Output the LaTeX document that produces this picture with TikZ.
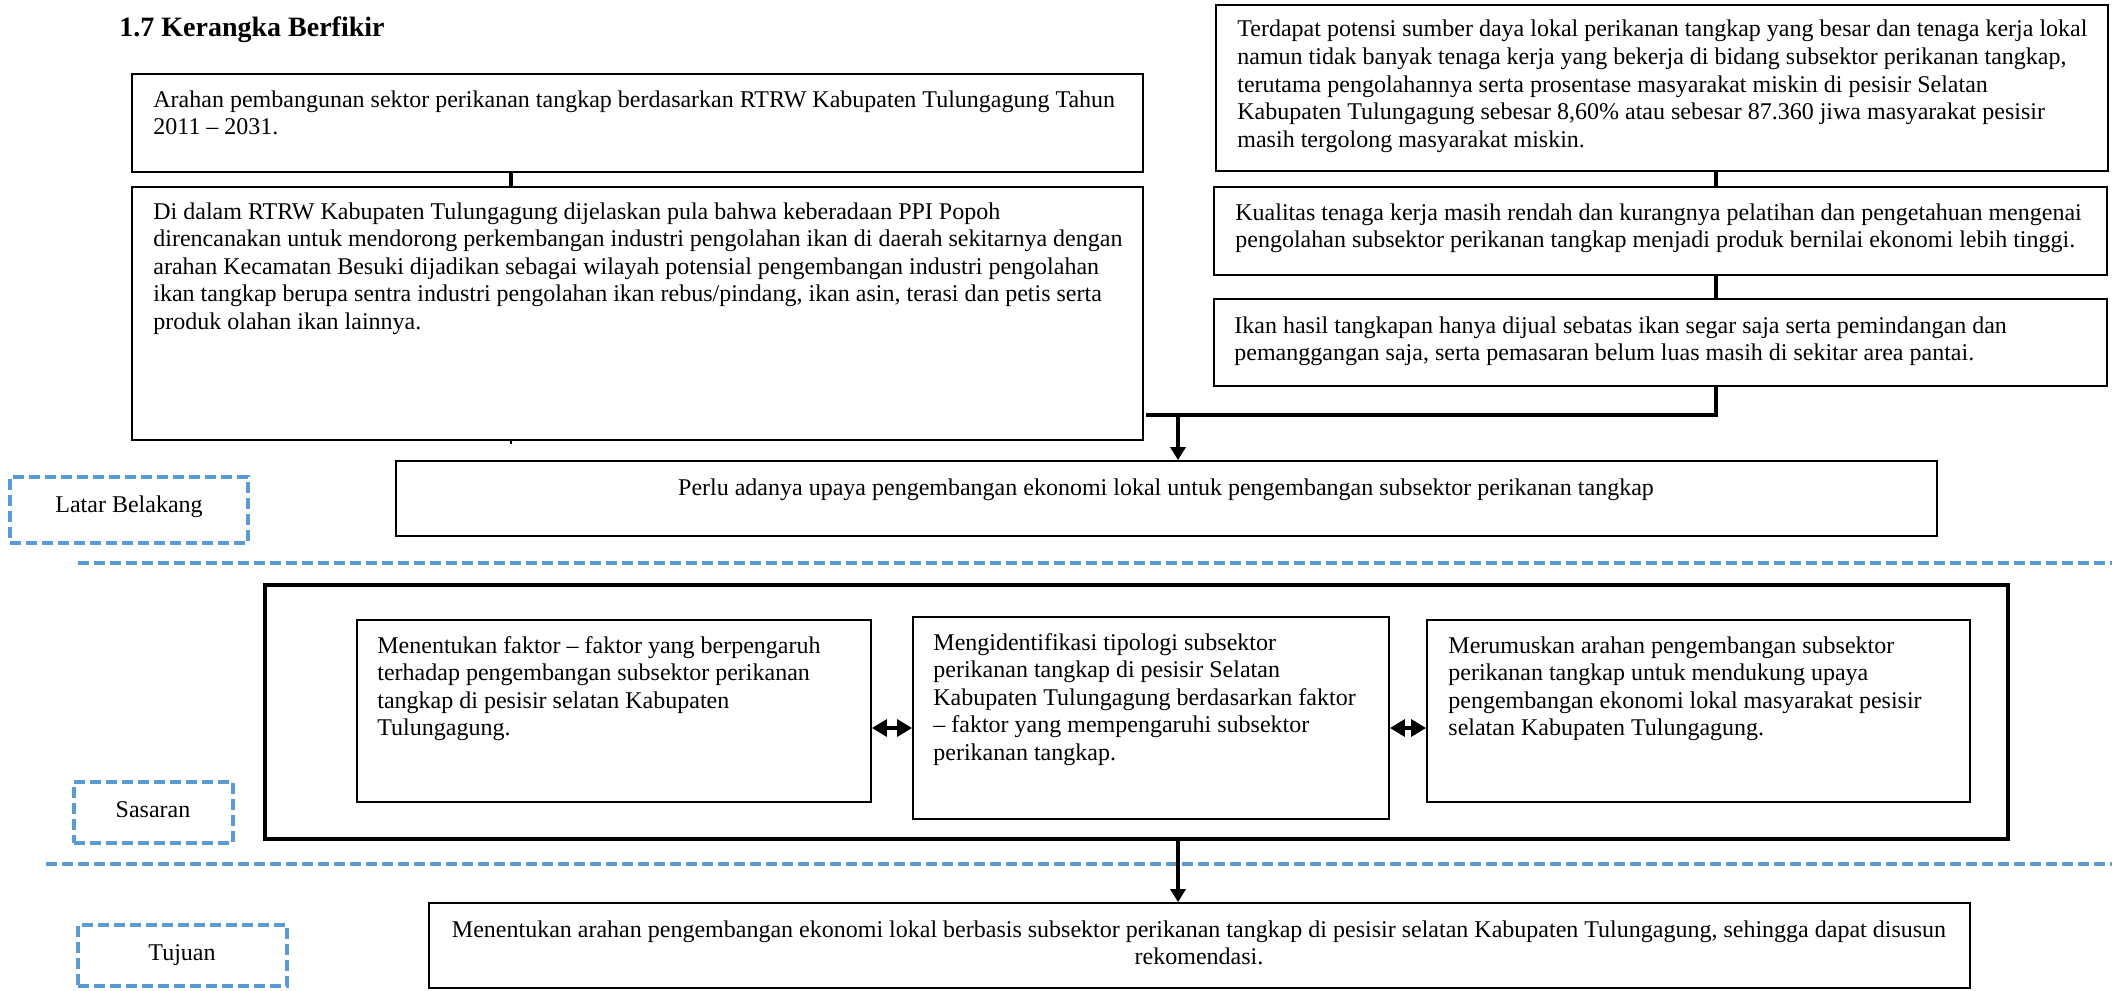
\documentclass[tikz,border=0pt]{standalone}
\usepackage{fontspec}
\setmainfont{Liberation Serif}
\usetikzlibrary{arrows.meta,fit}
\definecolor{dashblue}{HTML}{5B9BD5}
% stacked lines whose base is the first baseline
\newcommand\leftlines[1]{\vtop{\halign{##\hfil\cr#1\crcr}}}
\newcommand\midlines[1]{\vtop{\halign{\hfil##\hfil\cr#1\crcr}}}
\tikzset{
  panel/.style={draw, line width=0.9pt, inner sep=0pt},
  outerframe/.style={draw, line width=1.75pt, inner sep=0pt},
  tagbox/.style={draw=dashblue, line width=1.8pt, dash pattern=on 5.5pt off 2.5pt, inner sep=0pt},
  divider/.style={draw=dashblue, line width=1.8pt, dash pattern=on 5.5pt off 2.5pt},
  body/.style={inner sep=0pt, anchor=base west, font=\fontsize{12}{13.8}\selectfont},
  cbody/.style={inner sep=0pt, anchor=base, font=\fontsize{12}{13.8}\selectfont},
  conn/.style={line width=1.6pt},
  arr/.style={line width=1.6pt, -{Triangle[width=7.5pt,length=6.5pt]}},
  biarr/.style={line width=1.6pt, {Triangle[width=8.5pt,length=7.5pt]}-{Triangle[width=8.5pt,length=7.5pt]}}
}
\begin{document}
\begin{tikzpicture}[x=0.5pt,y=-0.5pt]
\useasboundingbox (0,0) rectangle (2112,990);

% heading
\node[inner sep=0pt, anchor=base west, font=\fontsize{14}{16}\selectfont\bfseries] (title) at (119,37) {1.7 Kerangka Berfikir};

% left column of background boxes
\node[panel, fit={(132,74) (1143,172)}] (A) {};
\node[body] (Atext) at (153,107) {\leftlines{Arahan pembangunan sektor perikanan tangkap berdasarkan RTRW Kabupaten Tulungagung Tahun\cr 2011 – 2031.}};
\node[panel, fit={(132,187) (1143,440)}] (B) {};
\node[body] (Btext) at (153,219) {\leftlines{Di dalam RTRW Kabupaten Tulungagung dijelaskan pula bahwa keberadaan PPI Popoh\cr direncanakan untuk mendorong perkembangan industri pengolahan ikan di daerah sekitarnya dengan\cr arahan Kecamatan Besuki dijadikan sebagai wilayah potensial pengembangan industri pengolahan\cr ikan tangkap berupa sentra industri pengolahan ikan rebus/pindang, ikan asin, terasi dan petis serta\cr produk olahan ikan lainnya.}};

% right column of background boxes
\node[panel, fit={(1216,5) (2108,171)}] (C) {};
\node[body] (Ctext) at (1237,37) {\leftlines{Terdapat potensi sumber daya lokal perikanan tangkap yang besar dan tenaga kerja lokal\cr namun tidak banyak tenaga kerja yang bekerja di bidang subsektor perikanan tangkap,\cr terutama pengolahannya serta prosentase masyarakat miskin di pesisir Selatan\cr Kabupaten Tulungagung sebesar 8,60\% atau sebesar 87.360 jiwa masyarakat pesisir\cr masih tergolong masyarakat miskin.}};
\node[panel, fit={(1214,187) (2107,275)}] (D) {};
\node[body] (Dtext) at (1235,220) {\leftlines{Kualitas tenaga kerja masih rendah dan kurangnya pelatihan dan pengetahuan mengenai\cr pengolahan subsektor perikanan tangkap menjadi produk bernilai ekonomi lebih tinggi.}};
\node[panel, fit={(1214,299) (2107,386)}] (E) {};
\node[body] (Etext) at (1234,333) {\leftlines{Ikan hasil tangkapan hanya dijual sebatas ikan segar saja serta pemindangan dan\cr pemanggangan saja, serta pemasaran belum luas masih di sekitar area pantai.}};

% conclusion of the background
\node[panel, fit={(396,461) (1937,536)}] (P) {};
\node[cbody] (Ptext) at (1166,495) {Perlu adanya upaya pengembangan ekonomi lokal untuk pengembangan subsektor perikanan tangkap};

% targets
\node[outerframe, fit={(265,585) (2008,839)}] (S) {};
\node[panel, fit={(357,620) (871,802)}] (S1) {};
\node[body] (S1text) at (377,653) {\leftlines{Menentukan faktor – faktor yang berpengaruh\cr terhadap pengembangan subsektor perikanan\cr tangkap di pesisir selatan Kabupaten\cr Tulungagung.}};
\node[panel, fit={(913,617) (1389,819)}] (S2) {};
\node[body] (S2text) at (933,650) {\leftlines{Mengidentifikasi tipologi subsektor\cr perikanan tangkap di pesisir Selatan\cr Kabupaten Tulungagung berdasarkan faktor\cr – faktor yang mempengaruhi subsektor\cr perikanan tangkap.}};
\node[panel, fit={(1427,620) (1970,802)}] (S3) {};
\node[body] (S3text) at (1448,653) {\leftlines{Merumuskan arahan pengembangan subsektor\cr perikanan tangkap untuk mendukung upaya\cr pengembangan ekonomi lokal masyarakat pesisir\cr selatan Kabupaten Tulungagung.}};

% goal
\node[panel, fit={(429,903) (1970,988)}] (T) {};
\node[cbody] (Ttext) at (1199,937) {\midlines{Menentukan arahan pengembangan ekonomi lokal berbasis subsektor perikanan tangkap di pesisir selatan Kabupaten Tulungagung, sehingga dapat disusun\cr rekomendasi.}};

% section tags
\node[tagbox, fit={(10,477) (248,543)}] (LB) {};
\node[cbody] (LBtext) at (129,512) {Latar Belakang};
\node[tagbox, fit={(74,782) (233,843)}] (SS) {};
\node[cbody] (SStext) at (153,817) {Sasaran};
\node[tagbox, fit={(78,925) (287,986)}] (TJ) {};
\node[cbody] (TJtext) at (182,960) {Tujuan};

% section dividers
\coordinate (d1a) at (78,563);
\coordinate (d1b) at (2112,563);
\coordinate (d2a) at (46,864);
\coordinate (d2b) at (2112,864);
\draw[divider] (d1a) -- (d1b);
\draw[divider] (d2a) -- (d2b);

% connectors
\coordinate (xl) at (511,0);
\coordinate (xr) at (1716,0);
\coordinate (xm) at (1178,0);
\coordinate (busy) at (0,415);
\coordinate (yd) at (0,728);
\coordinate (btick) at (511,444);
\draw[conn] (xl |- A.south) -- (xl |- B.north);
\draw[line width=1pt] (xl |- B.south) -- (btick);
\draw[conn] (xr |- C.south) -- (xr |- D.north);
\draw[conn] (xr |- D.south) -- (xr |- E.north);
\draw[conn] (xr |- E.south) -- (xr |- busy) -- ([xshift=1pt]B.east |- busy);
\draw[arr] (xm |- busy) -- (xm |- P.north);
\draw[biarr] (S1.east |- yd) -- (S2.west |- yd);
\draw[biarr] (S2.east |- yd) -- (S3.west |- yd);
\draw[arr] (xm |- S.south) -- (xm |- T.north);
\end{tikzpicture}
\end{document}
